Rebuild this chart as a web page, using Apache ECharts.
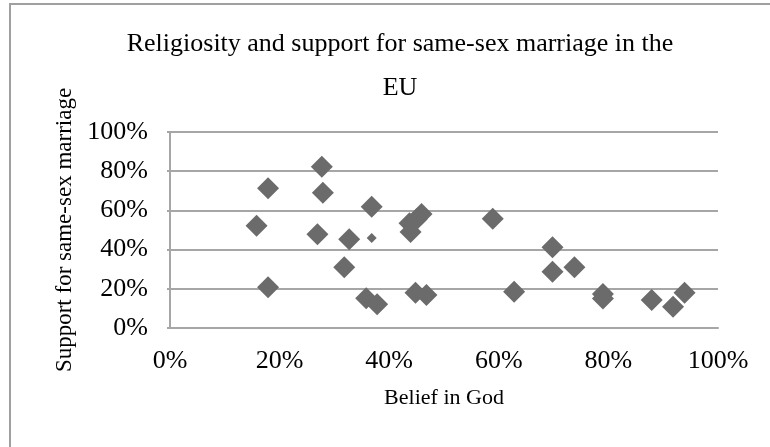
<!DOCTYPE html>
<html>
<head>
<meta charset="utf-8">
<script src="https://cdn.jsdelivr.net/npm/echarts@6/dist/echarts.min.js"></script>
<style>
html,body{margin:0;padding:0;background:#fff;}
#chart{width:770px;height:447px;}
</style>
</head>
<body>
<div id="chart"></div>
<script>
// Belief in God (%) and support for same-sex marriage (%)
var belief  = [15.8, 17.9, 17.9, 26.9, 27.7, 27.9, 31.8, 32.7, 35.8, 36.8, 37.8, 43.7, 43.9, 45.0, 45.9, 44.8, 46.8, 58.9, 62.8, 69.8, 69.8, 73.8, 79.0, 79.0, 87.9, 91.8, 93.9];
var support = [52.2, 71.3, 20.8, 47.8, 82.3, 69.0, 31.0, 45.3, 15.2, 61.9, 12.1, 53.5, 49.0, 55.5, 58.2, 18.0, 16.8, 55.8, 18.5, 41.2, 28.7, 31.0, 17.3, 15.1, 14.3, 10.9, 18.0];
// one small marker point
var smallBelief = [36.8];
var smallSupport = [45.9];
var xTicks = [0, 20, 40, 60, 80, 100];
var yTicks = [0, 20, 40, 60, 80, 100];
var titleLines = ['Religiosity and support for same-sex marriage in the', 'EU'];
var xName = 'Belief in God';
var yName = 'Support for same-sex marriage';

var FONT = "'Liberation Serif', 'Times New Roman', serif";
var mainData = belief.map(function (b, i) { return [b, support[i]]; });
var smallData = smallBelief.map(function (b, i) { return [b, smallSupport[i]]; });

var chart = echarts.init(document.getElementById('chart'), null, {renderer: 'canvas'});
chart.setOption({
  animation: false,
  backgroundColor: '#ffffff',
  title: {
    text: titleLines.join('\n'),
    left: 395,
    textAlign: 'center',
    top: 17,
    textStyle: {fontFamily: FONT, fontSize: 26, fontWeight: 'normal', color: '#000', lineHeight: 44}
  },
  graphic: [{
    type: 'rect',
    shape: {x: 10, y: 4, width: 800, height: 500},
    style: {fill: 'none', stroke: '#a0a0a0', lineWidth: 2},
    silent: true,
    z: -1
  }],
  grid: {left: 170, right: 52, top: 132, bottom: 119, containLabel: false},
  xAxis: {
    type: 'value',
    min: xTicks[0], max: xTicks[xTicks.length - 1], interval: 20,
    name: xName,
    nameLocation: 'middle',
    nameGap: 59,
    nameTextStyle: {fontFamily: FONT, fontSize: 22, color: '#000'},
    axisLine: {show: true, lineStyle: {color: '#a6a6a6', width: 2}},
    axisTick: {show: false},
    splitLine: {show: false},
    axisLabel: {fontFamily: FONT, fontSize: 26, color: '#000', margin: 20, formatter: '{value}%'}
  },
  yAxis: {
    type: 'value',
    min: yTicks[0], max: yTicks[yTicks.length - 1], interval: 20,
    name: yName,
    nameLocation: 'middle',
    nameGap: 93,
    nameTextStyle: {fontFamily: FONT, fontSize: 23, color: '#000'},
    axisLine: {show: true, lineStyle: {color: '#a6a6a6', width: 2}},
    axisTick: {show: true, length: 3, lineStyle: {color: '#a6a6a6', width: 2}},
    splitLine: {show: true, lineStyle: {color: '#a6a6a6', width: 2}},
    axisLabel: {fontFamily: FONT, fontSize: 26, color: '#000', margin: 22, formatter: '{value}%'}
  },
  series: [{
    type: 'scatter',
    data: mainData,
    symbol: 'diamond',
    symbolSize: 22,
    itemStyle: {color: '#6b6b6b', opacity: 1}
  }, {
    type: 'scatter',
    data: smallData,
    symbol: 'diamond',
    symbolSize: 10,
    itemStyle: {color: '#6b6b6b', opacity: 1}
  }]
});
</script>
</body>
</html>
